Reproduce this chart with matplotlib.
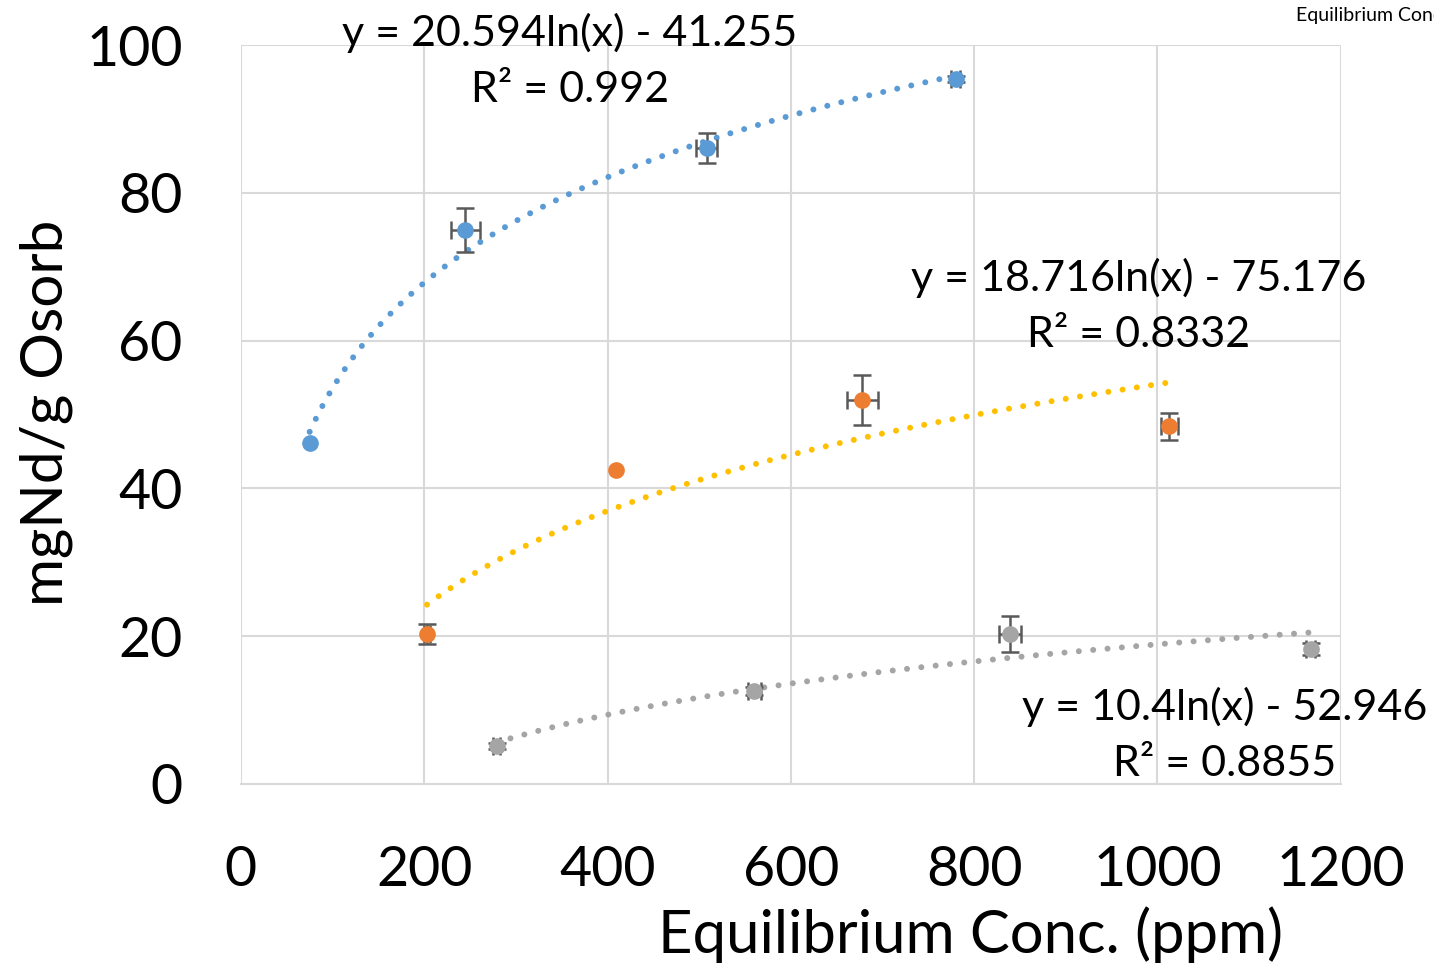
import numpy as np
import matplotlib
matplotlib.use("Agg")
import matplotlib.pyplot as plt

plt.rcParams['font.family'] = ['Lato', 'DejaVu Sans']

nan = np.nan

# measured points (equilibrium conc. ppm, uptake mg Nd / g)
blue_x = [75, 245, 508, 780]
blue_y = [46.1, 75.0, 86.1, 95.4]
blue_xerr = [nan, 16, 11, 5]
blue_yerr = [nan, 3.0, 2.0, 0.4]

orange_x = [203, 409, 678, 1013]
orange_y = [20.3, 42.5, 52.0, 48.4]
orange_xerr = [3, nan, 17, 9]
orange_yerr = [1.3, nan, 3.4, 1.8]

gray_x = [279, 560, 839, 1167]
gray_y = [5.1, 12.6, 20.3, 18.3]
gray_xerr = [4, 7, 12, 5]
gray_yerr = [0.4, 0.5, 2.4, 0.8]

# logarithmic trendlines y = a ln(x) + b
fits = [
    (20.594, -41.255, "y = 20.594ln(x) - 41.255\nR² = 0.992"),
    (18.716, -75.176, "y = 18.716ln(x) - 75.176\nR² = 0.8332"),
    (10.4, -52.946, "y = 10.4ln(x) - 52.946\nR² = 0.8855"),
]

c_blue = '#5B9BD5'
c_orange = '#ED7D31'
c_gray = '#A5A5A5'
c_yellow = '#FFC000'
c_err = '#595959'

fig = plt.figure(figsize=(14.34, 9.63), dpi=100)
ax = fig.add_axes([0.168, 0.186, 0.767, 0.767])

series = [
    (blue_x, blue_y, blue_xerr, blue_yerr, c_blue, c_blue),
    (orange_x, orange_y, orange_xerr, orange_yerr, c_orange, c_yellow),
    (gray_x, gray_y, gray_xerr, gray_yerr, c_gray, c_gray),
]

for (xs, ys, xe, ye, col, tcol), (a, b, _) in zip(series, fits):
    xx = np.linspace(min(xs), max(xs), 200)
    ax.plot(xx, a * np.log(xx) + b, color=tcol, lw=4.3,
            linestyle=(0, (0.01, 2.4)), dash_capstyle='round', zorder=2)
    ax.errorbar(xs, ys, xerr=xe, yerr=ye, fmt='o', color=col, ms=11,
                ecolor=c_err, elinewidth=1.8, capsize=6.5, capthick=1.8, zorder=3)

ax.set_xlim(0, 1200)
ax.set_ylim(0, 100)
ax.set_xticks(range(0, 1201, 200))
ax.set_yticks(range(0, 101, 20))
ax.grid(True, color='#D9D9D9', lw=1.5)
ax.set_axisbelow(True)
for s in ['top', 'right', 'left']:
    ax.spines[s].set_visible(False)
ax.spines['bottom'].set_color('#D9D9D9')
ax.spines['bottom'].set_linewidth(1.5)
ax.tick_params(length=0, labelsize=40)
ax.tick_params(axis='x', pad=44)
ax.tick_params(axis='y', pad=42)

fig.text(0.032, 1 - 413 / 963, 'mgNd/g Osorb', rotation=90, fontsize=42,
         ha='center', va='center')
fig.text(971 / 1434, 1 - 935 / 963, 'Equilibrium Conc. (ppm)', fontsize=43,
         ha='center', va='center')
fig.text(1296 / 1434, 1 - 16 / 963, 'Equilibrium Conc', fontsize=14,
         ha='left', va='center')

lbl_pos = [(570, 61), (1139, 306), (1225, 735)]
for (_, _, txt), (px, py) in zip(fits, lbl_pos):
    fig.text(px / 1434, 1 - py / 963, txt, fontsize=31, ha='center',
             va='center', linespacing=1.56)

fig.savefig('out.png', dpi=100)
